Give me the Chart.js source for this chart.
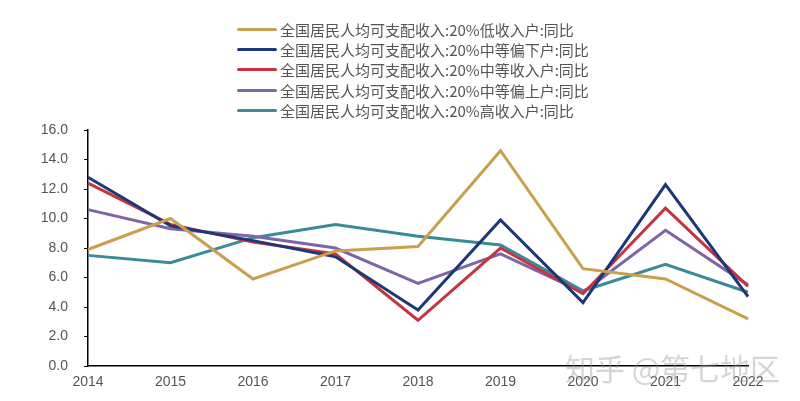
<!DOCTYPE html>
<html>
<head>
<meta charset="utf-8">
<script src="https://cdn.jsdelivr.net/npm/chart.js@4.4.0/dist/chart.umd.min.js"></script>
<style>
  html, body { margin: 0; padding: 0; background: #fff; }
  #wrap { position: relative; width: 800px; height: 401px; }
  #legend { position: absolute; left: 237px; top: 19px; font-family: "Noto Sans CJK SC", sans-serif; font-size: 15px; color: #555; }
  #legend .row { height: 20.4px; display: flex; align-items: center; white-space: nowrap; }
  #legend .swatch { width: 40px; height: 3px; border-radius: 2px; margin-right: 3px; }
  #mark { position: absolute; left: 565px; top: 345px; font-family: "Noto Sans CJK SC", sans-serif; font-size: 30px; color: rgba(150,150,150,0.4); white-space: nowrap; }
</style>
</head>
<body>
<div id="wrap">
  <canvas id="chart" width="800" height="401"></canvas>
  <div id="legend"></div>
  <div id="mark">知乎 @第七地区</div>
</div>
<script>
// categories and series
const years = ['2014', '2015', '2016', '2017', '2018', '2019', '2020', '2021', '2022'];
const labels = [
    '全国居民人均可支配收入:20%低收入户:同比',
    '全国居民人均可支配收入:20%中等偏下户:同比',
    '全国居民人均可支配收入:20%中等收入户:同比',
    '全国居民人均可支配收入:20%中等偏上户:同比',
    '全国居民人均可支配收入:20%高收入户:同比'
];
const lowIncome   = [7.9, 10.0, 5.9, 7.8, 8.1, 14.6, 6.6, 5.9, 3.2];
const lowerMiddle = [12.8, 9.5, 8.5, 7.4, 3.8, 9.9, 4.3, 12.3, 4.7];
const middle      = [12.4, 9.6, 8.4, 7.6, 3.1, 8.0, 4.9, 10.7, 5.4];
const upperMiddle = [10.6, 9.3, 8.8, 8.0, 5.6, 7.6, 5.0, 9.2, 5.5];
const highIncome  = [7.5, 7.0, 8.7, 9.6, 8.8, 8.2, 5.1, 6.9, 5.0];
const colors = ['#C9A14E', '#1B3878', '#C6343F', '#7E66A6', '#3A8B9A'];

const series = [lowIncome, lowerMiddle, middle, upperMiddle, highIncome];

// legend as html, one row per series
const legendEl = document.getElementById('legend');
labels.forEach((name, i) => {
    const row = document.createElement('div');
    row.className = 'row';
    row.innerHTML = `<span class="swatch" style="background:${colors[i]}"></span><span>${name}</span>`;
    legendEl.appendChild(row);
});

const tickFont = { family: '"Liberation Sans", sans-serif', size: 14 };

new Chart(document.getElementById('chart').getContext('2d'), {
    type: 'line',
    data: {
        labels: years,
        datasets: series.map((data, i) => ({
            label: labels[i],
            data,
            borderColor: colors[i],
            backgroundColor: colors[i],
            borderWidth: 3,
            pointRadius: 0,
            tension: 0
        }))
    },
    options: {
        responsive: false,
        animation: false,
        layout: { padding: { top: 130, right: 52, left: 0, bottom: 0 } },
        plugins: { legend: { display: false }, tooltip: { enabled: false } },
        scales: {
            x: {
                offset: false,
                grid: { display: true, drawOnChartArea: false, drawTicks: false },
                border: { color: '#000', width: 1.5 },
                ticks: { color: '#555', font: { family: '"Liberation Sans", sans-serif', size: 14 }, padding: 8, maxRotation: 0 },
                afterFit: (s) => { s.height = 35; }
            },
            y: {
                min: 0,
                max: 16,
                grid: { display: true, drawOnChartArea: false, tickLength: 4, color: '#000' },
                border: { color: '#000', width: 1.5 },
                ticks: {
                    stepSize: 2,
                    color: '#555',
                    font: tickFont,
                    padding: 16,
                    callback: (v) => Number(v).toFixed(1)
                },
                afterFit: (s) => { s.width = 88; }
            }
        }
    }
});
</script>
</body>
</html>
